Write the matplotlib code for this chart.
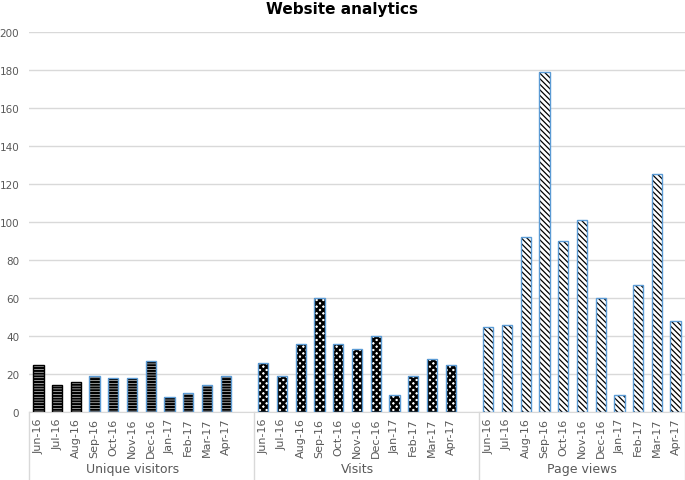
import matplotlib.pyplot as plt
from matplotlib.transforms import blended_transform_factory

months = ['Jun-16', 'Jul-16', 'Aug-16', 'Sep-16', 'Oct-16', 'Nov-16',
          'Dec-16', 'Jan-17', 'Feb-17', 'Mar-17', 'Apr-17']
groups = ['Unique visitors', 'Visits', 'Page views']
unique_visitors = [25, 14, 16, 19, 18, 18, 27, 8, 10, 14, 19]
visits = [26, 19, 36, 60, 36, 33, 40, 9, 19, 28, 25]
page_views = [45, 46, 92, 179, 90, 101, 60, 9, 67, 125, 48]

series = [unique_visitors, visits, page_views]
hatches = ['------', 'xxxxx', '\\\\\\\\\\\\']
hatch_lw = [1.6, 1.8, 0.9]
blue = '#5b9bd5'
grey_txt = '#595959'
grid_col = '#d9d9d9'

fig = plt.figure(figsize=(6.85, 4.81), dpi=100)
ax = fig.add_axes([29 / 685, 68 / 481, 656 / 685, 380 / 481])

slot = 12  # 11 months + one empty slot per group
ticks, labels = [], []
for g, vals in enumerate(series):
    xs = [g * slot + i for i in range(len(vals))]
    edges = [blue] * len(vals)
    if g == 0:
        edges[:3] = ['black'] * 3
    plt.rcParams['hatch.linewidth'] = hatch_lw[g]
    # hatch layer in black, then outline in its own colour
    bars = ax.bar(xs, vals, width=0.55, color='white', edgecolor='black',
                  hatch=hatches[g], linewidth=0, zorder=2)
    for p in bars:
        if hasattr(p, 'set_hatch_linewidth'):
            p.set_hatch_linewidth(hatch_lw[g])
    ax.bar(xs, vals, width=0.55, fill=False, edgecolor=edges,
           linewidth=1.0, zorder=3)
    ticks += xs
    labels += months

ax.set_xlim(-0.5, 34.5)
ax.set_ylim(0, 200)
ax.set_yticks(range(0, 201, 20))
ax.yaxis.grid(True, color=grid_col, linewidth=1)
ax.set_axisbelow(True)
ax.set_xticks(ticks, labels, rotation=90, fontsize=8, color=grey_txt)
ax.tick_params(axis='x', length=0, pad=4)
ax.tick_params(axis='y', length=0, labelsize=7.5, labelcolor=grey_txt, pad=7)
for s in ['top', 'right', 'left']:
    ax.spines[s].set_visible(False)
ax.spines['bottom'].set_color(grid_col)

# group separators and labels below the axis
tr = blended_transform_factory(ax.transData, ax.transAxes)
for b in [-0.5, 11.5, 23.5, 34.5]:
    ax.plot([b, b], [0, -0.18], transform=tr, color=grid_col,
            linewidth=1, clip_on=False)
for g, name in enumerate(groups):
    ax.text(g * slot + 5, -0.15, name, transform=tr, ha='center',
            va='center', fontsize=9, color=grey_txt)

fig.suptitle('Website analytics', fontweight='bold', fontsize=11, y=0.995)
fig.savefig('out.png', dpi=100)
